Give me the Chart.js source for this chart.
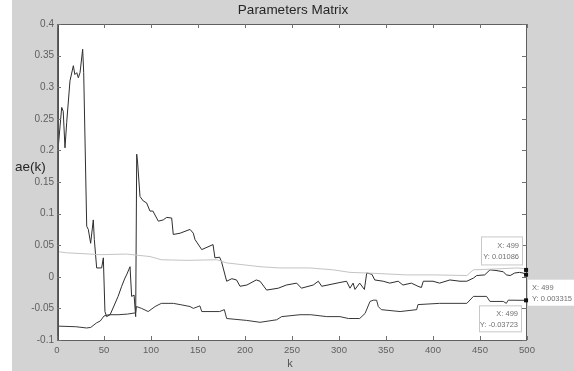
<!DOCTYPE html>
<html>
<head>
<meta charset="utf-8">
<script src="https://cdn.jsdelivr.net/npm/chart.js@4.4.1/dist/chart.umd.min.js"></script>
<style>
  html, body { margin: 0; padding: 0; background: #ffffff; }
  canvas { display: block; }
</style>
</head>
<body>
<canvas id="chart" width="574" height="371"></canvas>
<script>
var xTickLabels = ['0', '50', '100', '150', '200', '250', '300', '350', '400', '450', '500'];
var yTickLabels = ['-0.1', '-0.05', '0', '0.05', '0.1', '0.15', '0.2', '0.25', '0.3', '0.35', '0.4'];

// ae1 (big dark curve)
var kA = [0, 1, 5, 6.6, 8.5, 10.3, 13.8, 17.4, 19, 21, 22.7, 24.5, 27.3, 28.4, 31.6, 33.3, 35.8, 38.6, 39.7, 42.2,
  47.5, 49.3, 51, 52.8, 56.5, 65, 68.8, 72.3, 74, 77.7, 79.4, 82, 83.7, 84.8, 85.8, 88.3, 91.8, 95.3, 98.9, 102,
  107.8, 113, 116.7, 122, 123.7, 131, 141.5, 145, 146.8, 154, 166, 168, 173, 175, 180.5, 186, 191, 194.7, 202, 212,
  216, 223, 235.5, 244, 255, 260, 272.6, 278, 281.6, 301, 308, 311.7, 315, 317, 322, 327, 329.5, 335, 338, 347,
  354, 363, 368, 377, 384, 387.6, 389.7, 400, 407, 418, 428.7, 436, 443, 446.5, 455, 460.6, 467, 474.8, 478, 482,
  487, 492, 495.8, 499];
var yA = [0.02, 0.20, 0.268, 0.262, 0.204, 0.244, 0.31, 0.334, 0.32, 0.323, 0.315, 0.323, 0.36, 0.323, 0.08, 0.075, 0.053, 0.09, 0.059, 0.014,
  0.014, 0.03, -0.055, -0.063, -0.06, -0.031, -0.015, -0.002, 0.003, 0.016, -0.031, -0.029, -0.063, 0.194, 0.18, 0.127, 0.12, 0.117, 0.104, 0.104,
  0.088, 0.09, 0.094, 0.093, 0.067, 0.069, 0.075, 0.069, 0.059, 0.043, 0.051, 0.03, 0.031, 0.024, -0.007, -0.003, -0.005, -0.015, -0.013, -0.005,
  -0.007, -0.021, -0.018, -0.013, -0.01, -0.018, -0.013, -0.007, -0.015, -0.009, -0.007, -0.018, -0.01, -0.02, -0.01, -0.02, 0.006, 0.004, -0.005, -0.007,
  -0.01, -0.007, -0.013, -0.01, -0.015, -0.017, -0.007, -0.007, -0.01, -0.005, -0.007, -0.007, -0.002, 0.002, 0.003, 0.011, 0.01, 0.008, 0.003, 0.002,
  0.006, 0.007, 0.006, 0.003315];

// ae2 (lower dark curve)
var kB = [0, 20, 31.6, 36, 42, 46, 50, 55, 65, 75, 83.7, 84.5, 90, 97, 104.4, 111, 123.7, 131, 141.5, 145,
  152, 154, 173, 178, 180.5, 201.8, 216, 233.7, 239, 258.5, 270, 287, 301, 310, 322, 327.7, 333, 336.5, 340, 341.8,
  345, 365, 382.6, 384, 407, 436, 443, 457, 460.6, 474.8, 478, 480, 499];
var yB = [-0.078, -0.079, -0.081, -0.08, -0.073, -0.07, -0.062, -0.06, -0.06, -0.059, -0.057, -0.047, -0.05, -0.055, -0.047, -0.042, -0.042, -0.044, -0.047, -0.05,
  -0.046, -0.055, -0.055, -0.052, -0.066, -0.069, -0.072, -0.068, -0.063, -0.06, -0.06, -0.063, -0.063, -0.066, -0.066, -0.058, -0.039, -0.037, -0.037, -0.047,
  -0.052, -0.055, -0.052, -0.044, -0.042, -0.042, -0.031, -0.031, -0.039, -0.039, -0.042, -0.037, -0.03723];

// ae3 (light curve)
var kC = [0, 10, 35, 46, 74, 99, 111, 138, 170, 180.5, 216, 237, 269, 294, 311.7, 330, 372, 400, 436, 443, 460, 490, 496, 499];
var yC = [0.04, 0.038, 0.036, 0.035, 0.036, 0.032, 0.027, 0.026, 0.027, 0.022, 0.016, 0.014, 0.014, 0.011, 0.007, 0.006, 0.003, 0.003, 0.002, 0.011, 0.012, 0.014, 0.013, 0.01086];

// data tips at k = 499
var tipX = [499, 499, 499];
var tipY = [0.01086, 0.003315, -0.03723];
var tipText = ['Y: 0.01086', 'Y: 0.003315', 'Y: -0.03723'];

function pts(ks, ys) {
  return ks.map(function (k, i) { return { x: k, y: ys[i] }; });
}

var frame = {
  id: 'frame',
  beforeDraw: function (chart) {
    var c = chart.ctx, a = chart.chartArea;
    c.save();
    c.fillStyle = '#ffffff';
    c.fillRect(0, 0, chart.width, chart.height);
    c.fillStyle = '#d3d3d3';
    c.fillRect(12, 0, chart.width - 12, chart.height);
    c.fillStyle = '#ffffff';
    c.fillRect(a.left, a.top, a.right - a.left, a.bottom - a.top);
    c.restore();
  },
  afterDraw: function (chart) {
    var c = chart.ctx, a = chart.chartArea;
    var xs = chart.scales.x, ys = chart.scales.y;
    c.save();
    // box
    c.strokeStyle = '#606060';
    c.lineWidth = 1;
    c.strokeRect(a.left + 0.5, a.top + 0.5, a.right - a.left - 1, a.bottom - a.top);
    c.strokeStyle = '#505050';
    c.beginPath();
    c.moveTo(a.left + 1.5, a.top); c.lineTo(a.left + 1.5, a.bottom);
    c.stroke();
    // inward ticks
    c.strokeStyle = '#707070';
    c.beginPath();
    xs.ticks.forEach(function (t) {
      var px = Math.round(xs.getPixelForValue(t.value)) + 0.5;
      c.moveTo(px, a.bottom); c.lineTo(px, a.bottom - 4);
      c.moveTo(px, a.top); c.lineTo(px, a.top + 4);
    });
    ys.ticks.forEach(function (t) {
      var py = Math.round(ys.getPixelForValue(t.value)) + 0.5;
      c.moveTo(a.left, py); c.lineTo(a.left + 4, py);
      c.moveTo(a.right, py); c.lineTo(a.right - 5, py);
    });
    c.stroke();

    // data tips
    c.font = '7.5px "Liberation Sans", Arial, sans-serif';
    c.textBaseline = 'middle';
    var px = xs.getPixelForValue(tipX[0]);
    // tip 1 (above)
    var y1 = ys.getPixelForValue(tipY[0]);
    c.fillStyle = '#ffffff';
    c.strokeStyle = '#c8c8c8';
    c.fillRect(481.5, y1 - 33, 41, 28);
    c.strokeRect(481.5, y1 - 33, 41, 28);
    c.fillStyle = '#707070';
    c.textAlign = 'right';
    c.fillText('X: 499', 519, y1 - 24);
    c.fillText(tipText[0], 519, y1 - 13);
    // tip 2 (right, outside)
    var y2 = ys.getPixelForValue(tipY[1]);
    c.fillStyle = '#ffffff';
    c.fillRect(a.right + 1, y2 + 5, chart.width - a.right - 1, 26);
    c.fillStyle = '#707070';
    c.textAlign = 'left';
    c.fillText('X: 499', 532, y2 + 13);
    c.fillText(tipText[1], 532, y2 + 24);
    // tip 3 (below)
    var y3 = ys.getPixelForValue(tipY[2]);
    c.fillStyle = '#ffffff';
    c.strokeStyle = '#c8c8c8';
    c.fillRect(479.5, y3 + 5.5, 42, 26);
    c.strokeRect(479.5, y3 + 5.5, 42, 26);
    c.fillStyle = '#707070';
    c.textAlign = 'right';
    c.fillText('X: 499', 518, y3 + 13.5);
    c.fillText(tipText[2], 518, y3 + 24.5);

    // markers
    c.fillStyle = '#111111';
    tipY.forEach(function (v) {
      var py = ys.getPixelForValue(v);
      c.fillRect(px - 2, py - 2, 4, 4);
    });

    // title and axis labels
    c.fillStyle = '#262626';
    c.textAlign = 'center';
    c.textBaseline = 'alphabetic';
    c.font = '13.5px "Liberation Sans", Arial, sans-serif';
    c.fillText('Parameters Matrix', 293, 14);
    c.textAlign = 'left';
    c.fillText('ae(k)', 15, 171);
    c.fillStyle = '#555555';
    c.font = '11px "Liberation Sans", Arial, sans-serif';
    c.textAlign = 'center';
    c.fillText('k', 290, 367);
    c.restore();
  }
};

new Chart(document.getElementById('chart'), {
  type: 'line',
  data: {
    datasets: [
      { data: pts(kC, yC), borderColor: '#c4c4c4', borderWidth: 1, pointRadius: 0, tension: 0 },
      { data: pts(kB, yB), borderColor: '#3a3a3a', borderWidth: 1, pointRadius: 0, tension: 0 },
      { data: pts(kA, yA), borderColor: '#2e2e2e', borderWidth: 1, pointRadius: 0, tension: 0 }
    ]
  },
  options: {
    responsive: false,
    animation: false,
    devicePixelRatio: 1,
    layout: { padding: { left: 0, right: 47, top: 24, bottom: 0 } },
    plugins: { legend: { display: false }, tooltip: { enabled: false }, title: { display: false } },
    scales: {
      x: {
        type: 'linear', min: 0, max: 500,
        grid: { display: false, drawTicks: false },
        border: { display: false },
        ticks: {
          stepSize: 50, maxRotation: 0, autoSkip: false, padding: 5, color: '#606060',
          font: { family: '"Liberation Sans", Arial, sans-serif', size: 9.5 },
          callback: function (v, i) { return xTickLabels[i]; }
        },
        afterFit: function (s) { s.height = 31; }
      },
      y: {
        type: 'linear', min: -0.1, max: 0.4,
        grid: { display: false, drawTicks: false },
        border: { display: false },
        ticks: {
          stepSize: 0.05, autoSkip: false, padding: 3, color: '#606060',
          font: { family: '"Liberation Sans", Arial, sans-serif', size: 10 },
          callback: function (v, i) { return yTickLabels[i]; }
        },
        afterFit: function (s) { s.width = 57; }
      }
    }
  },
  plugins: [frame]
});
</script>
</body>
</html>
